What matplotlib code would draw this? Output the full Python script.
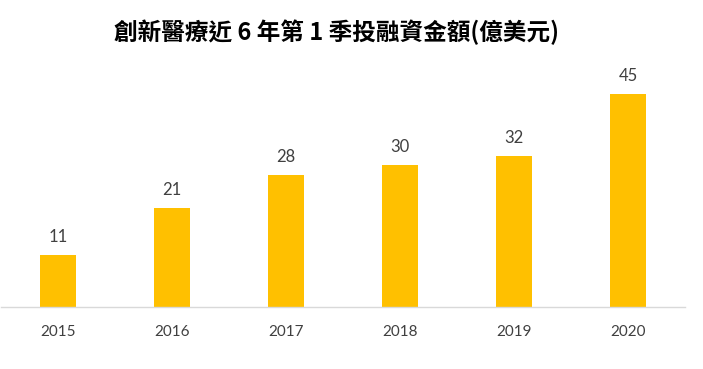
import matplotlib
matplotlib.use("Agg")
import matplotlib.pyplot as plt

years = ["2015", "2016", "2017", "2018", "2019", "2020"]
amounts = [11, 21, 28, 30, 32, 45]

plt.rcParams['font.family'] = ['Lato', 'Noto Sans CJK TC', 'DejaVu Sans']

fig = plt.figure(figsize=(7.03, 3.69), dpi=100)
ax = fig.add_axes([1 / 703, 62 / 369, 684 / 703, 236.5 / 369])

x = range(len(years))
bars = ax.bar(x, amounts, width=0.316, color="#FFC000")
ax.set_xlim(-0.5, len(years) - 0.5)
ax.set_ylim(0, 50)

for b, v in zip(bars, amounts):
    ax.annotate(str(v), (b.get_x() + b.get_width() / 2, v), xytext=(0, 7),
                textcoords="offset points", ha="center", va="bottom",
                fontsize=12, color="#404040")

ax.set_xticks(list(x))
ax.set_xticklabels(years, fontsize=11, color="#404040")
ax.tick_params(axis="x", length=0, pad=13)
ax.set_yticks([])
for s in ["top", "right", "left"]:
    ax.spines[s].set_visible(False)
ax.spines["bottom"].set_color("#D9D9D9")
ax.spines["bottom"].set_linewidth(1)

fig.text(337 / 703, 1 - 32 / 369, "創新醫療近 6 年第 1 季投融資金額(億美元)",
         ha="center", va="center", fontsize=17, fontweight="bold",
         family=['Noto Sans CJK TC', 'DejaVu Sans'], color="#000000")

fig.savefig("out.png", dpi=100)
